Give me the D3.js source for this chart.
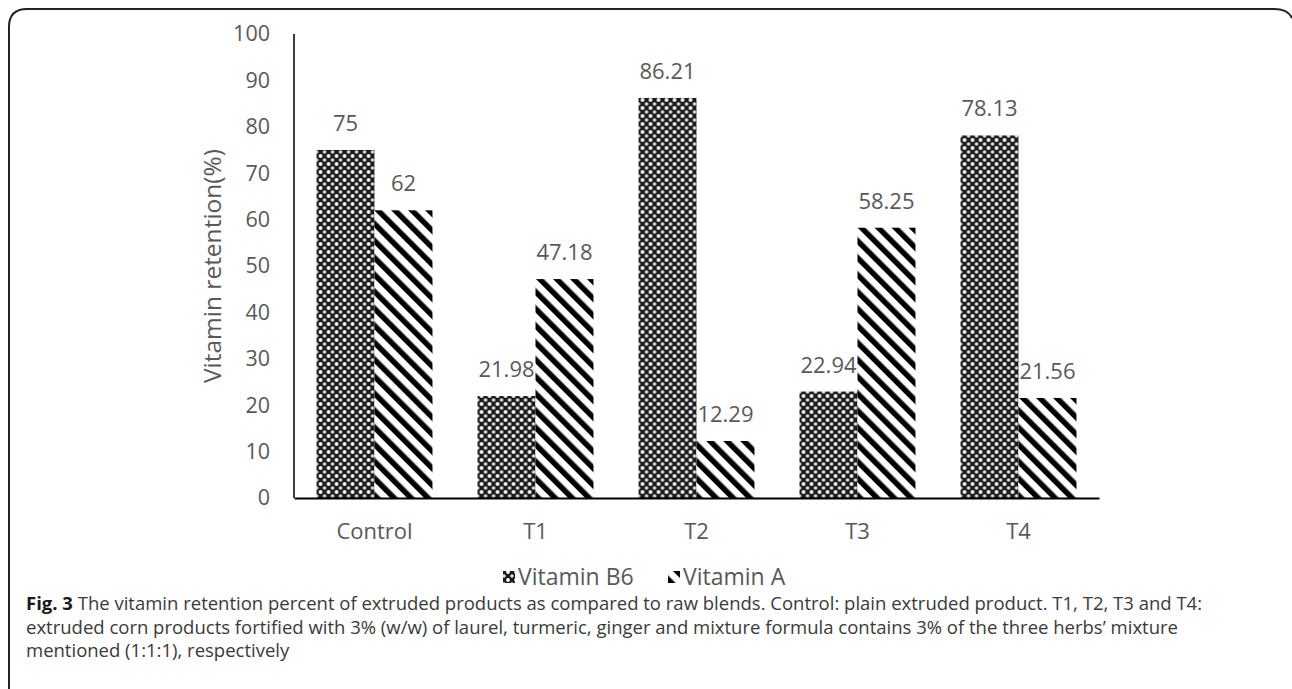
<!DOCTYPE html>
<html>
<head>
<meta charset="utf-8">
<script src="https://cdn.jsdelivr.net/npm/d3@7"></script>
<style>
  html, body { margin: 0; padding: 0; background: #fff; }
  svg { display: block; }
</style>
</head>
<body>
<svg id="chart" width="1292" height="689"></svg>
<script>
// Chart data
const categories = ["Control", "T1", "T2", "T3", "T4"];
const seriesNames = ["Vitamin B6", "Vitamin A"];
const vitaminB6 = [75, 21.98, 86.21, 22.94, 78.13];
const vitaminA = [62, 47.18, 12.29, 58.25, 21.56];
const yTicks = [0, 10, 20, 30, 40, 50, 60, 70, 80, 90, 100];
const yTitle = "Vitamin retention(%)";
const captionLines = [
  [{ t: "Fig. 3", b: true }, { t: " The vitamin retention percent of extruded products as compared to raw blends. Control: plain extruded product. T1, T2, T3 and T4:" }],
  [{ t: "extruded corn products fortified with 3% (w/w) of laurel, turmeric, ginger and mixture formula contains 3% of the three herbs\u2019 mixture" }],
  [{ t: "mentioned (1:1:1), respectively" }]
];

const svg = d3.select("#chart");
const font = "'Open Sans', sans-serif";
const labelColor = "#595959";

// Fill patterns
const defs = svg.append("defs");
const checker = defs.append("pattern")
  .attr("id", "pat-b6").attr("patternUnits", "userSpaceOnUse")
  .attr("width", 8).attr("height", 8);
checker.append("rect").attr("width", 8).attr("height", 8).attr("fill", "#1a1a1a");
checker.append("circle").attr("cx", 4).attr("cy", 4).attr("r", 1.9).attr("fill", "#fff");
[[0, 0], [8, 0], [0, 8], [8, 8]].forEach(([cx, cy]) => {
  checker.append("rect").attr("x", cx - 0.6).attr("y", cy - 2).attr("width", 1.2).attr("height", 4).attr("fill", "#fff");
  checker.append("rect").attr("x", cx - 2).attr("y", cy - 0.6).attr("width", 4).attr("height", 1.2).attr("fill", "#fff");
});

const stripes = defs.append("pattern")
  .attr("id", "pat-a").attr("patternUnits", "userSpaceOnUse")
  .attr("width", 12).attr("height", 12)
  .attr("patternTransform", "rotate(-45)");
stripes.append("rect").attr("width", 12).attr("height", 12).attr("fill", "#fff");
stripes.append("rect").attr("width", 5.5).attr("height", 12).attr("fill", "#000");

const fills = ["url(#pat-b6)", "url(#pat-a)"];

// Outer frame
svg.append("path")
  .attr("d", "M9,689 V27 Q9,9 27,9 H1274 Q1288,9 1292,18")
  .attr("fill", "none").attr("stroke", "#222").attr("stroke-width", 2);

// Scales
const x0 = d3.scaleBand().domain(categories).range([294, 1099])
  .paddingInner(0.28).paddingOuter(0.14);
const x1 = d3.scaleBand().domain(seriesNames).range([0, x0.bandwidth()]);
const y = d3.scaleLinear().domain([0, 100]).range([498, 34]);

// Y tick labels
const yAxis = svg.append("g").attr("transform", "translate(294,0)")
  .call(d3.axisLeft(y).tickValues(yTicks).tickSize(0).tickPadding(24));
yAxis.select(".domain").remove();
yAxis.selectAll("text").attr("font-family", font).attr("font-size", 21.5)
  .attr("fill", labelColor);

// Bars
const rows = categories.map((c, i) => ({ cat: c, vals: [vitaminB6[i], vitaminA[i]] }));
const groups = svg.append("g").selectAll("g").data(rows).join("g")
  .attr("transform", d => `translate(${x0(d.cat)},0)`);
groups.selectAll("rect").data(d => d.vals.map((v, j) => ({ v, s: seriesNames[j], j })))
  .join("rect")
  .attr("x", d => x1(d.s)).attr("width", x1.bandwidth())
  .attr("y", d => y(d.v)).attr("height", d => y(0) - y(d.v))
  .attr("fill", d => fills[d.j]);
groups.selectAll("text").data(d => d.vals.map((v, j) => ({ v, s: seriesNames[j] })))
  .join("text")
  .attr("x", d => x1(d.s) + x1.bandwidth() / 2)
  .attr("y", d => y(d.v) - 19)
  .attr("text-anchor", "middle")
  .attr("font-family", font).attr("font-size", 22).attr("fill", labelColor)
  .text(d => d.v);

// Axis lines
svg.append("line").attr("x1", 294).attr("x2", 294).attr("y1", y(100)).attr("y2", y(0))
  .attr("stroke", "#000").attr("stroke-width", 1.5);
const xAxis = svg.append("g").attr("transform", `translate(0,${y(0)})`)
  .call(d3.axisBottom(x0).tickSize(0).tickPadding(25));
xAxis.select(".domain").attr("stroke", "#000").attr("stroke-width", 2);
xAxis.selectAll("text").attr("font-family", font).attr("font-size", 22)
  .attr("fill", labelColor);

// Y axis title
svg.append("text")
  .attr("transform", `translate(221,${(y(0) + y(100)) / 2}) rotate(-90)`)
  .attr("text-anchor", "middle").attr("font-family", font).attr("font-size", 24.5)
  .attr("fill", labelColor).text(yTitle);

// Legend
const legendPos = [503, 668];
seriesNames.forEach((name, i) => {
  svg.append("rect").attr("x", legendPos[i]).attr("y", 571)
    .attr("width", 12).attr("height", 12).attr("fill", fills[i]);
  svg.append("text").attr("x", legendPos[i] + 15).attr("y", 585)
    .attr("font-family", font).attr("font-size", 23).attr("fill", labelColor)
    .text(name);
});

// Caption
captionLines.forEach((parts, i) => {
  const t = svg.append("text").attr("x", 26).attr("y", 610 + i * 23.5)
    .attr("font-family", font).attr("font-size", 18.5).attr("fill", "#3a3a3a");
  parts.forEach(p => {
    t.append("tspan").attr("font-weight", p.b ? 700 : 400)
      .attr("fill", p.b ? "#1a1a1a" : "#3a3a3a").text(p.t);
  });
});
</script>
</body>
</html>
